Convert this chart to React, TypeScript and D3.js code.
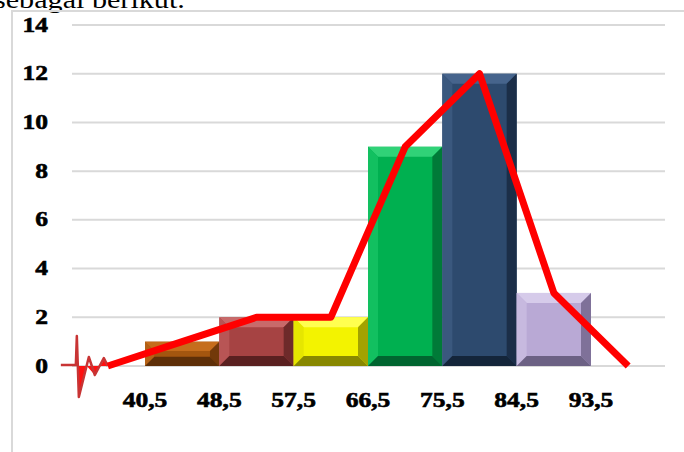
import React from "react"
import * as d3 from "d3"

const boundaries = ["40,5", "48,5", "57,5", "66,5", "75,5", "84,5", "93,5"]
const frequencies = [1, 2, 2, 9, 12, 3]
const polygon = [0, 1, 2, 2, 9, 12, 3, 0]
const yTicks = [0, 2, 4, 6, 8, 10, 12, 14]
// face, top, left, right, bottom
const barColors = [
  ["#a4560f", "#c56d1c", "#b46116", "#72390a", "#5e2f08"],
  ["#a64343", "#c86a6a", "#b85555", "#6e2a2a", "#5a2020"],
  ["#f3f300", "#ffff50", "#e6e600", "#a2a200", "#888800"],
  ["#00b050", "#30d277", "#12c060", "#007a38", "#006530"],
  ["#2d4a6e", "#46648c", "#3a587e", "#1b2e48", "#14253a"],
  ["#b9a9d5", "#d6cbea", "#c7b9df", "#7f7199", "#6c6184"],
]

const W = 684, H = 452
const SX = 1.16 // the source picture is stretched a little horizontally

export default function App() {
  const x = d3.scaleLinear().domain([0, 6]).range([145, 591])
  const y = d3.scaleLinear().domain([0, 14]).range([366, 25])
  const line = d3.line<number>()
    .x((_, i) => x(i - 0.5))
    .y(d => y(d))

  const bars = frequencies.map((f, i) => {
    const x0 = x(i), x1 = x(i + 1), y0 = y(f), y1 = y(0)
    const b = Math.min(10, (y1 - y0) / 2.6)
    const c = barColors[i]
    const pts = (a: number[][]) => a.map(p => p.join(",")).join(" ")
    return (
      <g key={i}>
        <rect x={x0} y={y0} width={x1 - x0} height={y1 - y0} fill={c[0]} />
        <polygon points={pts([[x0, y0], [x1, y0], [x1 - b, y0 + b], [x0 + b, y0 + b]])} fill={c[1]} />
        <polygon points={pts([[x0, y0], [x0 + b, y0 + b], [x0 + b, y1 - b], [x0, y1]])} fill={c[2]} />
        <polygon points={pts([[x1, y0], [x1, y1], [x1 - b, y1 - b], [x1 - b, y0 + b]])} fill={c[3]} />
        <polygon points={pts([[x0, y1], [x0 + b, y1 - b], [x1 - b, y1 - b], [x1, y1]])} fill={c[4]} />
      </g>
    )
  })

  // axis-break mark, placed relative to the polygon's first point
  const sx = x(-0.5)
  const sy = y(0)
  const fillPart = `M${sx - 30},${sy} L${sx - 29},${sy + 31} L${sx - 21},${sy} L${sx - 13},${sy + 9} L${sx - 4},${sy - 6} L${sx},${sy} Z`
  const squiggle = `M${sx - 47},${sy - 1} L${sx - 32},${sy - 1} L${sx - 31},${sy - 30} L${sx - 29},${sy + 31} L${sx - 21},${sy - 1}
    L${sx - 19},${sy - 9} L${sx - 13},${sy + 9} L${sx - 4},${sy - 8} L${sx},${sy}`

  return (
    <svg width={W} height={H} style={{ position: "absolute", left: 0, top: 0, background: "#fff" }}
      fontFamily="'Liberation Serif', 'Times New Roman', serif">
      <text transform={`translate(-6,8) scale(${SX},1)`} fontSize={26} fill="#000">sebagai berikut.</text>
      <rect x={12} y={11} width={700} height={460} fill="none" stroke="#d9d9d9" strokeWidth={2} />
      {yTicks.map(t => (
        <line key={t} x1={72} x2={665} y1={y(t)} y2={y(t)} stroke="#d9d9d9" strokeWidth={2} />
      ))}
      <g fontSize={22} fontWeight="bold" fill="#000" stroke="#000" strokeWidth={0.6}>
        {yTicks.map(t => (
          <text key={t} transform={`translate(48,${y(t) + 6.5}) scale(${SX},1)`} textAnchor="end">{t}</text>
        ))}
        {boundaries.map((l, i) => (
          <text key={l} transform={`translate(${x(i)},407) scale(${SX},1)`} textAnchor="middle">{l}</text>
        ))}
      </g>
      {bars}
      <path d={fillPart} fill="#ff1010" stroke="none" />
      <path d={squiggle} fill="none" stroke="#c83434" strokeWidth={2.5} strokeLinejoin="round" />
      <path d={line(polygon) || ""} fill="none" stroke="#ff0000" strokeWidth={7} strokeLinejoin="round" />
    </svg>
  )
}
